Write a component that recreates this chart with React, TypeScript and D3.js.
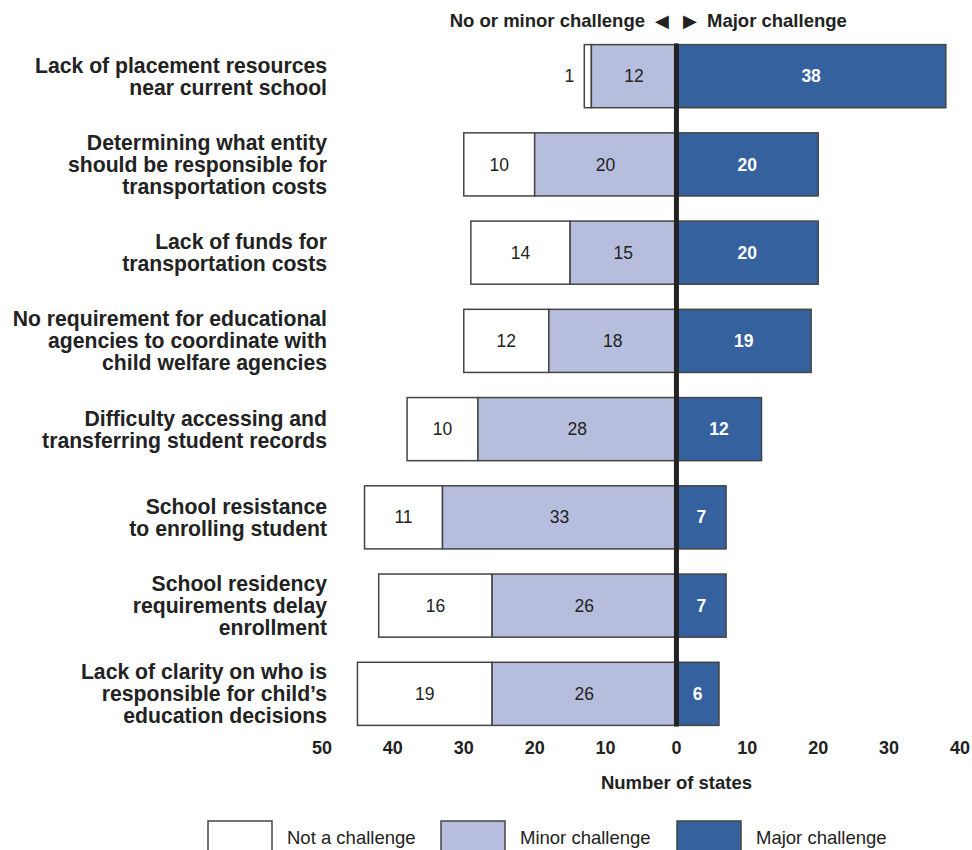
import React from "react";
import * as d3 from "d3";

const categories: string[][] = [
  ["Lack of placement resources", "near current school"],
  ["Determining what entity", "should be responsible for", "transportation costs"],
  ["Lack of funds for", "transportation costs"],
  ["No requirement for educational", "agencies to coordinate with", "child welfare agencies"],
  ["Difficulty accessing and", "transferring student records"],
  ["School resistance", "to enrolling student"],
  ["School residency", "requirements delay", "enrollment"],
  ["Lack of clarity on who is", "responsible for child\u2019s", "education decisions"],
];
const notChallenge = [1, 10, 14, 12, 10, 11, 16, 19];
const minorChallenge = [12, 20, 15, 18, 28, 33, 26, 26];
const majorChallenge = [38, 20, 20, 19, 12, 7, 7, 6];
const tickValues = [-50, -40, -30, -20, -10, 0, 10, 20, 30, 40];
const legendLabels = ["Not a challenge", "Minor challenge", "Major challenge"];

const W = 972;
const H = 850;
const FONT = "'Liberation Sans', Arial, sans-serif";
const TEXT = "#222";
const C_NOT = "#ffffff";
const C_MINOR = "#b7bedd";
const C_MAJOR = "#35629e";
const STROKE = "#444";

export default function App() {
  const x = d3.scaleLinear().domain([-50, 40]).range([322, 960]);
  const y = d3
    .scaleBand<number>()
    .domain(d3.range(categories.length))
    .range([32, 738])
    .paddingInner(0.285)
    .paddingOuter(0.143);
  const bh = y.bandwidth();
  const x0 = x(0);

  return (
    <svg
      width={W}
      height={H}
      style={{ position: "absolute", left: 0, top: 0, background: "#fff" }}
      fontFamily={FONT}
    >
      <rect x={0} y={0} width={W} height={H} fill="#fff" />
      {/* header */}
      <text x={645} y={27} textAnchor="end" fontSize={18.5} fontWeight="bold" fill={TEXT}>
        No or minor challenge
      </text>
      <text x={669} y={27} textAnchor="end" fontSize={18} fill={TEXT}>
        {"\u25C0"}
      </text>
      <text x={683} y={27} textAnchor="start" fontSize={18} fill={TEXT}>
        {"\u25B6"}
      </text>
      <text x={707} y={27} textAnchor="start" fontSize={18.5} fontWeight="bold" fill={TEXT}>
        Major challenge
      </text>

      {categories.map((lines, i) => {
        const top = y(i) as number;
        const cy = top + bh / 2;
        const n = notChallenge[i];
        const mi = minorChallenge[i];
        const ma = majorChallenge[i];
        const xMinorL = x(-mi);
        const xNotL = x(-mi - n);
        const lh = 22;
        const startY = cy - ((lines.length - 1) * lh) / 2;
        return (
          <g key={i}>
            {lines.map((l, j) => (
              <text
                key={j}
                x={327}
                y={startY + j * lh}
                dy="0.35em"
                textAnchor="end"
                fontSize={21.2}
                fontWeight="bold"
                fill={TEXT}
              >
                {l}
              </text>
            ))}
            <rect x={xNotL} y={top} width={xMinorL - xNotL} height={bh} fill={C_NOT} stroke={STROKE} strokeWidth={1.5} />
            <rect x={xMinorL} y={top} width={x0 - xMinorL} height={bh} fill={C_MINOR} stroke={STROKE} strokeWidth={1.5} />
            <rect x={x0} y={top} width={x(ma) - x0} height={bh} fill={C_MAJOR} stroke={STROKE} strokeWidth={1.5} />
            <text
              x={n < 3 ? xNotL - 10 : (xNotL + xMinorL) / 2}
              y={cy}
              dy="0.35em"
              textAnchor={n < 3 ? "end" : "middle"}
              fontSize={17.5}
              fill={TEXT}
            >
              {n}
            </text>
            <text x={(xMinorL + x0) / 2} y={cy} dy="0.35em" textAnchor="middle" fontSize={17.5} fill={TEXT}>
              {mi}
            </text>
            <text
              x={(x0 + x(ma)) / 2}
              y={cy}
              dy="0.35em"
              textAnchor="middle"
              fontSize={17.5}
              fontWeight="bold"
              fill="#fff"
            >
              {ma}
            </text>
          </g>
        );
      })}

      {/* zero line */}
      <line x1={x0} x2={x0} y1={(y(0) as number) - 1} y2={(y(categories.length - 1) as number) + bh + 1} stroke="#222" strokeWidth={5} />

      {/* ticks */}
      {tickValues.map((t) => (
        <text key={t} x={x(t)} y={754} textAnchor="middle" fontSize={18} fontWeight="bold" fill={TEXT}>
          {Math.abs(t)}
        </text>
      ))}
      <text x={x0} y={789} textAnchor="middle" fontSize={18.5} fontWeight="bold" fill={TEXT}>
        Number of states
      </text>

      {/* legend */}
      {legendLabels.map((lab, i) => {
        const bx = [208, 441, 677][i];
        const fill = [C_NOT, C_MINOR, C_MAJOR][i];
        return (
          <g key={lab}>
            <rect x={bx} y={821} width={64} height={34} fill={fill} stroke={STROKE} strokeWidth={1.5} />
            <text x={bx + 79} y={844} fontSize={18.5} fill={TEXT}>
              {lab}
            </text>
          </g>
        );
      })}
    </svg>
  );
}
